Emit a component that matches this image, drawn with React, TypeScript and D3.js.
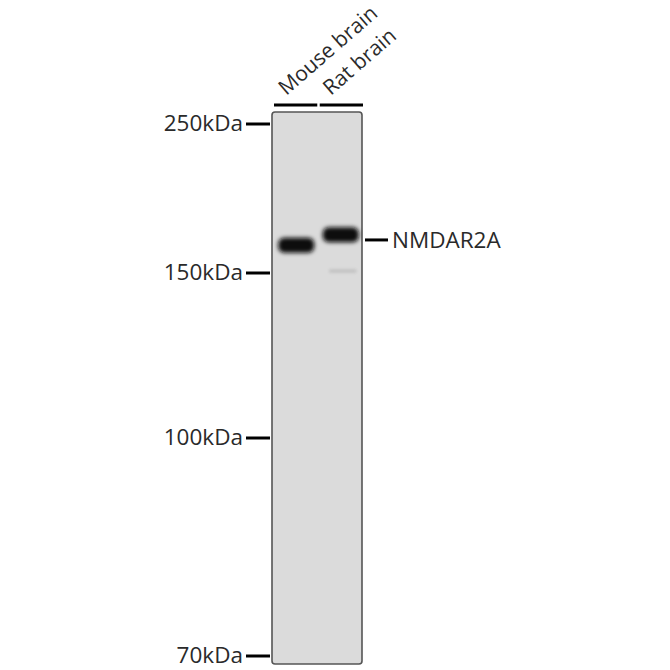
import React from "react";
import * as d3 from "d3";

const lanes: string[] = ["Mouse brain", "Rat brain"];
const markerKda: number[] = [250, 150, 100, 70];
const markerLabels: string[] = ["250kDa", "150kDa", "100kDa", "70kDa"];
// main band (apparent kDa) per lane and its darkness
const bandKda: number[] = [165, 171];
const bandStrength: number[] = [1, 1];
// faint lower band, only in rat brain
const faintKda: (number | null)[] = [null, 151];
const faintStrength: number[] = [0, 0.12];
const targetName = "NMDAR2A";
const targetKda = 168;

const App: React.FC = () => {
    const width = 670;
    const height = 670;
    const blotLeft = 272;
    const blotRight = 362;
    const blotTop = 112;
    const blotBottom = 664;
    const font = "'Open Sans', 'DejaVu Sans', sans-serif";
    const fontSize = 22.5;

    // gel migration is not quite log-linear, so piecewise log scale
    const yScale = d3.scaleLog()
        .domain(markerKda)
        .range([124, 273, 438, 656]);

    const xScale = d3.scaleBand<string>()
        .domain(lanes)
        .range([blotLeft + 2, blotRight + 1])
        .paddingInner(0.1)
        .paddingOuter(0.05);

    return (
        <svg width={width} height={height} style={{ position: "absolute", left: 0, top: 0, background: "#fff" }}>
            <defs>
                <filter id="blur" x="-30%" y="-60%" width="160%" height="220%">
                    <feGaussianBlur stdDeviation="2" />
                </filter>
                <filter id="blurFaint" x="-30%" y="-100%" width="160%" height="300%">
                    <feGaussianBlur stdDeviation="1.5" />
                </filter>
            </defs>

            {/* membrane */}
            <rect
                x={blotLeft}
                y={blotTop}
                width={blotRight - blotLeft}
                height={blotBottom - blotTop}
                rx={3}
                fill="#dbdbdb"
                stroke="#555"
                strokeWidth={1.6}
            />

            {/* bands */}
            {lanes.map((lane, i) => {
                const x0 = xScale(lane)!;
                const w = xScale.bandwidth();
                const yc = yScale(bandKda[i]);
                return (
                    <g key={lane}>
                        <rect
                            x={x0 + 2}
                            y={yc - 7.5}
                            width={w - 4}
                            height={15}
                            rx={6}
                            fill="#0d0d0d"
                            opacity={bandStrength[i]}
                            filter="url(#blur)"
                        />
                        {faintKda[i] !== null && (
                            <rect
                                x={x0 + 8}
                                y={yScale(faintKda[i] as number) - 2}
                                width={w - 12}
                                height={4}
                                rx={2}
                                fill="#222"
                                opacity={faintStrength[i]}
                                filter="url(#blurFaint)"
                            />
                        )}
                    </g>
                );
            })}

            {/* lane bars and labels */}
            {lanes.map((lane, i) => {
                const x0 = xScale(lane)!;
                const w = xScale.bandwidth();
                const cx = x0 + w / 2;
                return (
                    <g key={`lab-${lane}`}>
                        <line x1={i === 0 ? blotLeft + 2 : x0 - 1} x2={i === 0 ? x0 + w + 1 : blotRight + 1} y1={105} y2={105} stroke="#000" strokeWidth={3} />
                        <text
                            transform={`translate(${cx - 10},${96}) rotate(-41)`}
                            fontFamily={font}
                            fontSize={21}
                            fill="#2a2a2a"
                        >
                            {lane}
                        </text>
                    </g>
                );
            })}

            {/* marker ticks */}
            {markerKda.map((kda, i) => (
                <g key={kda} transform={`translate(0,${yScale(kda)})`}>
                    <line x1={246} x2={270} y1={0} y2={0} stroke="#000" strokeWidth={3} />
                    <text x={243} y={0} dy="0.33em" textAnchor="end" fontFamily={font} fontSize={fontSize} fill="#2a2a2a">
                        {markerLabels[i]}
                    </text>
                </g>
            ))}

            {/* target label */}
            <g transform={`translate(0,${yScale(targetKda)})`}>
                <line x1={365} x2={388} y1={0} y2={0} stroke="#000" strokeWidth={3} />
                <text x={392} y={0} dy="0.35em" fontFamily={font} fontSize={fontSize} fill="#2a2a2a">
                    {targetName}
                </text>
            </g>
        </svg>
    );
};

export default App;
